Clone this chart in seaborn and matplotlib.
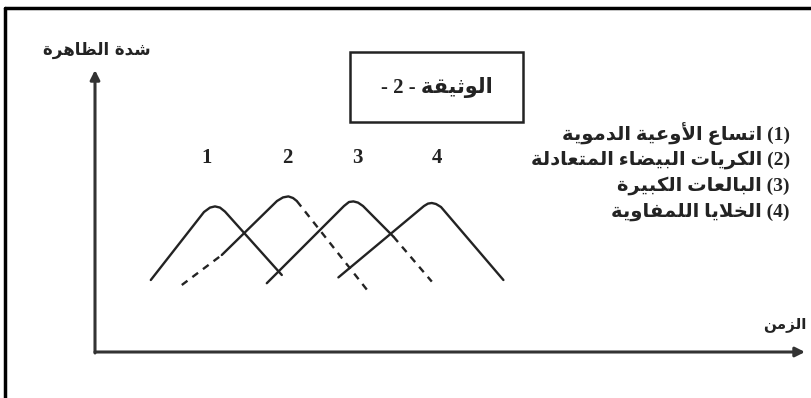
import pandas as pd
import seaborn as sns
import matplotlib
matplotlib.use("Agg")
import matplotlib.pyplot as plt
from matplotlib.patches import Rectangle
from matplotlib.lines import Line2D

# curves: time, intensity
c1_t = [2.79, 5.45, 5.75, 6.00, 6.25, 6.50, 9.34]
c1_i = [3.60, 7.00, 7.22, 7.28, 7.22, 7.02, 3.85]

c2_rise_t = [4.34, 6.34]
c2_rise_i = [3.35, 4.85]
c2_peak_t = [6.34, 9.10, 9.40, 9.67, 9.90, 10.09]
c2_peak_i = [4.85, 7.55, 7.73, 7.78, 7.70, 7.55]
c2_fall_t = [10.09, 13.67]
c2_fall_i = [7.55, 3.02]

c3_peak_t = [8.59, 12.45, 12.70, 12.92, 13.15, 13.40, 14.92]
c3_peak_i = [3.44, 7.30, 7.50, 7.53, 7.47, 7.30, 5.77]
c3_fall_t = [14.92, 16.84]
c3_fall_i = [5.77, 3.52]

c4_t = [12.17, 16.45, 16.65, 16.84, 17.05, 17.30, 20.42]
c4_i = [3.73, 7.30, 7.42, 7.45, 7.40, 7.25, 3.60]

peak_labels = ["1", "2", "3", "4"]
label_t = [5.6, 9.6, 13.1, 17.1]

legend_nums = ["(1)", "(2)", "(3)", "(4)"]
legend_names = [
    "اتساع الأوعية الدموية",
    "الكريات البيضاء المتعادلة",
    "البالعات الكبيرة",
    "الخلايا اللمفاوية",
]
y_title = "شدة الظاهرة"
x_title = "الزمن"
doc_title = "الوثيقة"
doc_num = "2"

# matplotlib has no arabic shaping, so map letters to presentation forms
FORMS = {}
code = 0xFE80
for ch, n in zip("ءآأؤإئابةتثجحخدذرزسشصضطظعغفقكلمنهوىي",
                 "122224242444442222444444444444444224"):
    FORMS[ch] = (code, int(n))
    code += int(n)
LAM_ALEF = {"ا": 0xFEFB, "أ": 0xFEF7, "إ": 0xFEF9, "آ": 0xFEF5}


def ar(text):
    out = []
    i = 0
    prev_joins = False
    while i < len(text):
        ch = text[i]
        if ch not in FORMS:
            out.append(ch)
            prev_joins = False
            i += 1
            continue
        nxt = text[i + 1] if i + 1 < len(text) else ""
        if ch == "ل" and nxt in LAM_ALEF:
            out.append(chr(LAM_ALEF[nxt] + (1 if prev_joins else 0)))
            prev_joins = False
            i += 2
            continue
        base, n = FORMS[ch]
        joins_next = n == 4 and nxt in FORMS
        if n == 1:
            form = 0
        elif n == 2:
            form = 1 if prev_joins else 0
        else:
            form = {(False, False): 0, (True, False): 1,
                    (False, True): 2, (True, True): 3}[(prev_joins, joins_next)]
        out.append(chr(base + form))
        prev_joins = joins_next
        i += 1
    return "".join(out)[::-1]


rows = []
segments = [
    ("c1", "solid", c1_t, c1_i),
    ("c2a", "dashed", c2_rise_t, c2_rise_i),
    ("c2b", "solid", c2_peak_t, c2_peak_i),
    ("c2c", "dashed", c2_fall_t, c2_fall_i),
    ("c3a", "solid", c3_peak_t, c3_peak_i),
    ("c3b", "dashed", c3_fall_t, c3_fall_i),
    ("c4", "solid", c4_t, c4_i),
]
for seg, kind, ts, vals in segments:
    for t, v in zip(ts, vals):
        rows.append({"seg": seg, "kind": kind, "t": t, "i": v})
df = pd.DataFrame(rows)

sns.set_style("white")
plt.rcParams["font.family"] = ["DejaVu Sans"]

ink = "#232323"
fig = plt.figure(figsize=(8.12, 3.98), dpi=100)
ax = fig.add_axes([0, 0, 1, 1])
S = 20
ax.set_xlim(-95 / S, (812 - 95) / S)
ax.set_ylim(-(398 - 352) / S, 352 / S)
ax.set_axis_off()

sns.lineplot(data=df, x="t", y="i", units="seg", style="kind",
             dashes={"solid": "", "dashed": (3.0, 2.6)},
             estimator=None, sort=False, color=ink, linewidth=1.7,
             legend=False, ax=ax)

# axes with arrows
arrow = dict(arrowstyle="-|>", lw=2.2, color="#333333", mutation_scale=14,
             shrinkA=0, shrinkB=0)
ax.annotate("", xy=(35.5, 0), xytext=(0, 0), arrowprops=arrow)
ax.annotate("", xy=(0, 14.1), xytext=(0, -0.05), arrowprops=arrow)

ax.text(0.1, 15.1, ar(y_title), ha="center", va="center", fontsize=12,
        fontweight="bold", color=ink)
ax.text(34.5, 1.35, ar(x_title), ha="center", va="center", fontsize=11,
        fontweight="bold", color=ink)

for lab, t in zip(peak_labels, label_t):
    ax.text(t, 9.7, lab, ha="center", va="center", fontsize=15,
            fontweight="bold", family=["Liberation Serif"], color=ink)

ax.add_patch(Rectangle((12.75, 11.5), 8.65, 3.5, fill=False, lw=1.8,
                       edgecolor=ink))
ax.text(17.1, 13.2, "- " + doc_num + " - " + ar(doc_title), ha="center",
        va="center", fontsize=15, fontweight="bold",
        family=["Liberation Serif", "DejaVu Sans"], color=ink)

for k, (num, name) in enumerate(zip(legend_nums, legend_names)):
    ax.text(34.75, 10.9 - 1.3 * k, ar(name) + " " + num, ha="right",
            va="center", fontsize=14, fontweight="bold",
            family=["Liberation Serif", "DejaVu Sans"], color=ink)

# frame of the scanned document
fig.add_artist(Line2D([5 / 812, 1], [1 - 8 / 398] * 2, transform=fig.transFigure,
                      color="black", lw=2.5))
fig.add_artist(Line2D([5 / 812] * 2, [0, 1 - 8 / 398], transform=fig.transFigure,
                      color="black", lw=2.5))

fig.savefig("out.png", dpi=100, facecolor="white")
